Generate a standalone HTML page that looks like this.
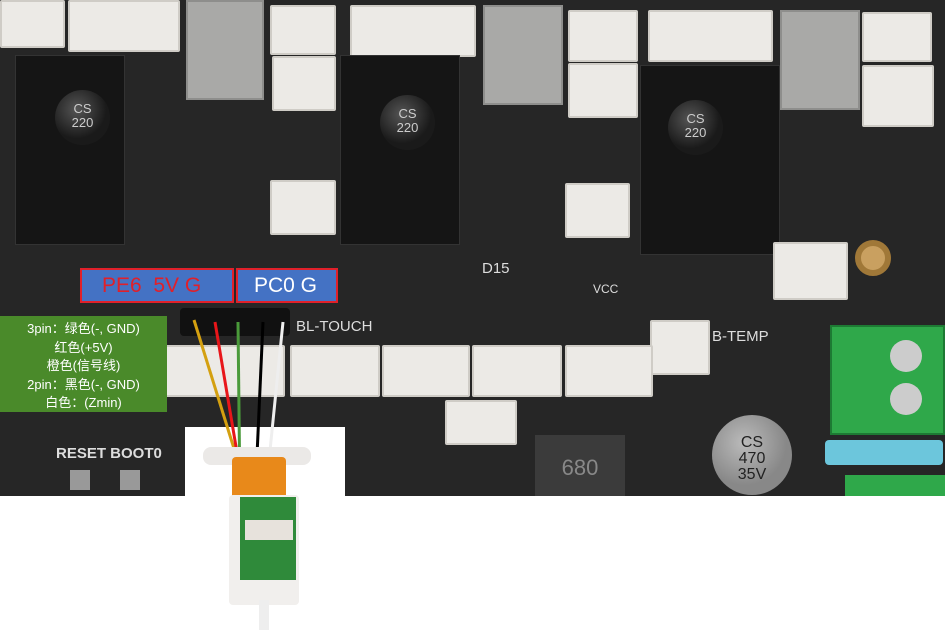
<!DOCTYPE html>
<html><head><meta charset="utf-8"><style>
body{margin:0;width:950px;height:642px;overflow:hidden;background:#fff;position:relative;font-family:"Liberation Sans","Noto Sans CJK SC",sans-serif}
div{position:absolute;box-sizing:border-box}
.w{background:#eceae6;border:2px solid #cfccc6;border-radius:2px}
.g{background:#a9a9a7;border:2px solid #8e8e8c}
.h{background:#111;border:1px solid #333}
.cap{background:radial-gradient(circle at 40% 35%,#555,#1a1a1a 60%);border-radius:50%;color:#ccc;font-size:13px;text-align:center;line-height:14px}
.t{color:#ddd;font-size:13px}
</style></head><body>
<div style="left:0;top:0;width:945px;height:496px;background:#262626"></div>
<!-- top connectors -->
<div class="w" style="left:0;top:0;width:65px;height:48px"></div>
<div class="w" style="left:68px;top:0;width:112px;height:52px"></div>
<div class="g" style="left:186px;top:0;width:78px;height:100px"></div>
<div class="w" style="left:270px;top:5px;width:66px;height:50px"></div>
<div class="w" style="left:272px;top:56px;width:64px;height:55px"></div>
<div class="w" style="left:350px;top:5px;width:126px;height:52px"></div>
<div class="g" style="left:483px;top:5px;width:80px;height:100px"></div>
<div class="w" style="left:568px;top:10px;width:70px;height:52px"></div>
<div class="w" style="left:568px;top:63px;width:70px;height:55px"></div>
<div class="w" style="left:648px;top:10px;width:125px;height:52px"></div>
<div class="g" style="left:780px;top:10px;width:80px;height:100px"></div>
<div class="w" style="left:862px;top:12px;width:70px;height:50px"></div>
<div class="w" style="left:862px;top:65px;width:72px;height:62px"></div>
<!-- headers -->
<div class="h" style="left:15px;top:55px;width:110px;height:190px;background:#151515"></div>
<div class="h" style="left:340px;top:55px;width:120px;height:190px;background:#151515"></div>
<div class="h" style="left:640px;top:65px;width:140px;height:190px;background:#151515"></div>
<div class="cap" style="left:55px;top:90px;width:55px;height:55px;padding-top:12px">CS<br>220</div>
<div class="cap" style="left:380px;top:95px;width:55px;height:55px;padding-top:12px">CS<br>220</div>
<div class="cap" style="left:668px;top:100px;width:55px;height:55px;padding-top:12px">CS<br>220</div>
<div class="cap" style="left:712px;top:415px;width:80px;height:80px;padding-top:20px;background:radial-gradient(circle at 40% 35%,#bbb,#888 60%);color:#222;font-size:16px;line-height:16px">CS<br>470<br>35V</div>
<div class="w" style="left:270px;top:180px;width:66px;height:55px"></div>
<div class="w" style="left:565px;top:183px;width:65px;height:55px"></div>
<div class="w" style="left:773px;top:242px;width:75px;height:58px"></div>
<div class="w" style="left:650px;top:320px;width:60px;height:55px"></div>
<div style="left:855px;top:240px;width:36px;height:36px;border-radius:50%;background:#c9a060;border:6px solid #a07838"></div>
<!-- bottom connector row -->
<div class="w" style="left:160px;top:345px;width:125px;height:52px"></div>
<div class="w" style="left:290px;top:345px;width:90px;height:52px"></div>
<div class="w" style="left:382px;top:345px;width:88px;height:52px"></div>
<div class="w" style="left:472px;top:345px;width:90px;height:52px"></div>
<div class="w" style="left:565px;top:345px;width:88px;height:52px"></div>
<div class="w" style="left:445px;top:400px;width:72px;height:45px"></div>
<div style="left:535px;top:435px;width:90px;height:61px;background:#3b3b3b;color:#888;font-size:22px;text-align:center;padding-top:20px">680</div>
<!-- green terminal -->
<div style="left:830px;top:325px;width:115px;height:110px;background:#2fa84a;border:2px solid #1d7a33"></div>
<div style="left:890px;top:340px;width:32px;height:32px;border-radius:50%;background:#ccc"></div>
<div style="left:890px;top:383px;width:32px;height:32px;border-radius:50%;background:#ccc"></div>
<div style="left:825px;top:440px;width:118px;height:25px;background:#6cc6dc;border-radius:4px"></div>
<div style="left:845px;top:475px;width:100px;height:21px;background:#2fa84a"></div>
<div class="t" style="left:482px;top:260px;font-size:15px">D15</div>
<div class="t" style="left:593px;top:282px;font-size:12px">VCC</div>
<div class="t" style="left:296px;top:318px;font-size:15px">BL-TOUCH</div>
<div class="t" style="left:712px;top:328px;font-size:15px">B-TEMP</div>
<div class="t" style="left:56px;top:445px;font-size:15px;font-weight:bold">RESET BOOT0</div>
<div style="left:180px;top:308px;width:110px;height:28px;background:#111;border-radius:4px"></div>
<div style="left:70px;top:470px;width:20px;height:20px;background:#999"></div>
<div style="left:120px;top:470px;width:20px;height:20px;background:#999"></div>
<!-- labels -->
<div style="left:80px;top:268px;width:154px;height:35px;background:#4472c4;border:2px solid #e0202a;color:#e0202a;font-size:21px;line-height:31px;padding-left:20px">PE6&nbsp; 5V G</div>
<div style="left:236px;top:268px;width:102px;height:35px;background:#4472c4;border:2px solid #e0202a;color:#fff;font-size:21px;line-height:31px;padding-left:16px">PC0 G</div>
<div style="left:0;top:316px;width:167px;height:96px;background:#4a8a2a;color:#fff;font-size:13px;line-height:18.5px;text-align:center;padding-top:4px">3pin：绿色(-, GND)<br>红色(+5V)<br>橙色(信号线)<br>2pin：黑色(-, GND)<br>白色：(Zmin)</div>
<!-- probe -->
<div style="left:185px;top:427px;width:160px;height:215px;background:#fff"></div>
<svg style="position:absolute;left:0;top:0" width="950" height="642">
<line x1="194" y1="320" x2="250" y2="500" stroke="#d4a010" stroke-width="3"/>
<line x1="215" y1="322" x2="245" y2="500" stroke="#e8161a" stroke-width="3"/>
<line x1="238" y1="322" x2="240" y2="500" stroke="#4a9a3a" stroke-width="3"/>
<line x1="263" y1="322" x2="255" y2="500" stroke="#000" stroke-width="3"/>
<line x1="283" y1="322" x2="265" y2="500" stroke="#eee" stroke-width="3"/>
</svg>
<div style="left:203px;top:447px;width:108px;height:18px;background:#ebe9e7;border-radius:8px"></div>
<div style="left:232px;top:457px;width:54px;height:42px;background:#e8891a;border-radius:4px"></div>
<div style="left:229px;top:495px;width:70px;height:110px;background:#f1efed;border-radius:4px"></div>
<div style="left:240px;top:497px;width:56px;height:83px;background:#2f8a3a"></div>
<div style="left:245px;top:520px;width:48px;height:20px;background:#e7e2dc"></div>
<div style="left:259px;top:600px;width:10px;height:30px;background:#eee"></div>
</body></html>
